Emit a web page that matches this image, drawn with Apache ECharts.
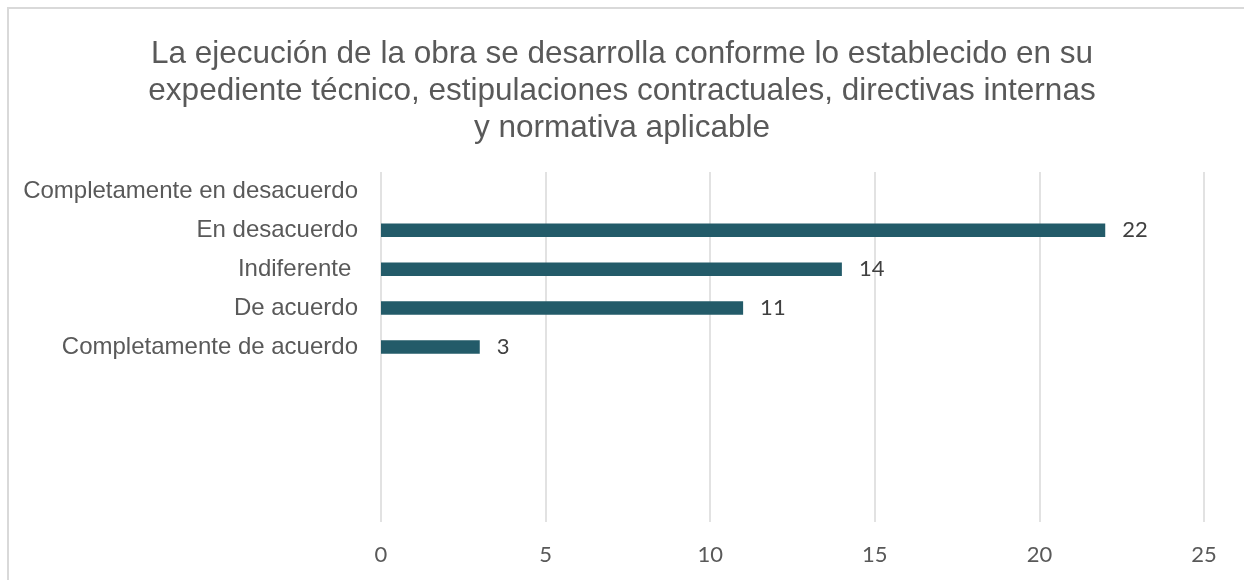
<!DOCTYPE html>
<html>
<head>
<meta charset="utf-8">
<script src="https://cdn.jsdelivr.net/npm/echarts@6/dist/echarts.min.js"></script>
<style>
html,body{margin:0;padding:0;background:#fff;}
#chart{width:1244px;height:580px;}
</style>
</head>
<body>
<div id="chart"></div>
<script>
const titleText = 'La ejecución de la obra se desarrolla conforme lo establecido en su\nexpediente técnico, estipulaciones contractuales, directivas internas\ny normativa aplicable';
const categories = ['Completamente en desacuerdo', 'En desacuerdo', 'Indiferente ', 'De acuerdo', 'Completamente de acuerdo', '', '', '', ''];
const values = [null, 22, 14, 11, 3, null, null, null, null];
const xTicks = { min: 0, max: 25, interval: 5 };

const chart = echarts.init(document.getElementById('chart'), null, { renderer: 'canvas' });
chart.setOption({
  animation: false,
  backgroundColor: '#ffffff',
  graphic: [{
    type: 'rect',
    shape: { x: 8, y: 8, width: 1260, height: 600 },
    style: { fill: 'none', stroke: '#D9D9D9', lineWidth: 2 },
    silent: true
  }],
  title: {
    text: titleText,
    left: 'center',
    top: 31,
    padding: [5, 0, 5, 10],
    textStyle: {
      fontFamily: 'Liberation Sans, Arial, sans-serif',
      fontSize: 31.5,
      fontWeight: 'normal',
      color: '#595959',
      lineHeight: 37
    }
  },
  grid: { left: 381, right: 40, top: 172, bottom: 58, containLabel: false },
  xAxis: {
    type: 'value',
    min: xTicks.min,
    max: xTicks.max,
    interval: xTicks.interval,
    axisLine: { show: false },
    axisTick: { show: false },
    splitLine: { show: true, lineStyle: { color: '#D9D9D9', width: 1.5 } },
    axisLabel: {
      margin: 22,
      fontFamily: 'Lato, sans-serif',
      fontSize: 22,
      color: '#595959'
    }
  },
  yAxis: {
    type: 'category',
    inverse: true,
    data: categories,
    axisLine: { show: false },
    axisTick: { show: false },
    splitLine: { show: false },
    axisLabel: {
      margin: 23,
      fontFamily: 'Liberation Sans, Arial, sans-serif',
      fontSize: 24,
      color: '#595959'
    }
  },
  series: [{
    type: 'bar',
    data: values,
    barWidth: 13.5,
    itemStyle: { color: '#235B69' },
    label: {
      show: true,
      position: 'right',
      distance: 17,
      fontFamily: 'Lato, sans-serif',
      fontSize: 22,
      color: '#404040'
    }
  }]
});
</script>
</body>
</html>
